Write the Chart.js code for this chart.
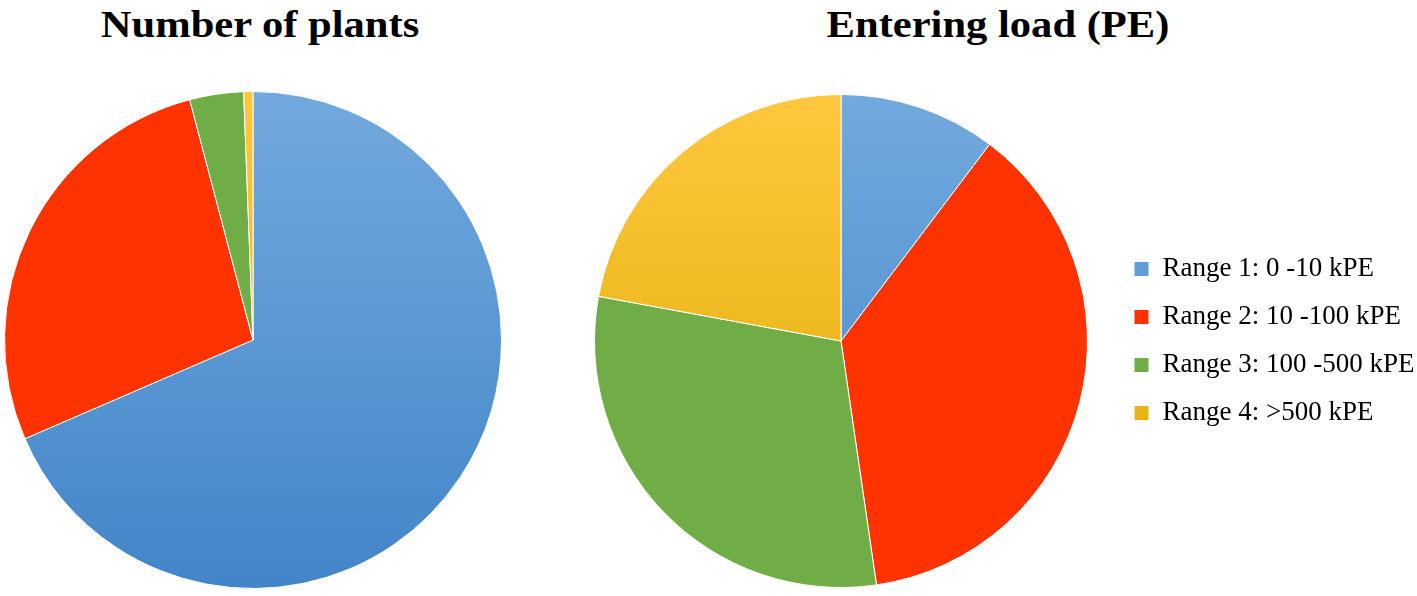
<!DOCTYPE html>
<html>
<head>
  <title>Plants and entering load</title>
  <script src="https://cdn.jsdelivr.net/npm/chart.js"></script>
  <style>
    body { margin: 0; background: #fff; width: 1417px; height: 596px; position: relative; overflow: hidden; }
    .title {
      position: absolute;
      font-family: "Liberation Serif", "Times New Roman", serif;
      font-weight: bold;
      font-size: 38px;
      line-height: 1;
      white-space: nowrap;
      transform: translateX(-50%) scaleX(1.12);
      color: #000;
    }
    .box { position: absolute; }
  </style>
</head>
<body>
  <div class="title" style="left:260px; top:5px;">Number of plants</div>
  <div class="title" style="left:998px; top:5px;">Entering load (PE)</div>

  <div class="box" style="left:4px; top:91px; width:498px; height:498px;">
    <canvas id="plantsChart"></canvas>
  </div>
  <div class="box" style="left:569px; top:94px; width:848px; height:494px;">
    <canvas id="loadChart"></canvas>
  </div>

  <script>
    const categories = ['Range 1: 0 -10 kPE', 'Range 2: 10 -100 kPE', 'Range 3: 100 -500 kPE', 'Range 4: >500 kPE'];
    const plantShares = [68.5, 27.4, 3.5, 0.6];   // % of plants
    const loadShares = [10.3, 37.4, 30.2, 22.1];  // % of entering load

    // top / bottom colour of each slice (office style vertical shading)
    const topColors = ['#72a9de', '#ff3300', '#70ad47', '#ffc83e'];
    const bottomColors = ['#4285c8', '#ff3300', '#70ad47', '#dba900'];

    function sliceColor(ctx) {
      const area = ctx.chart.chartArea;
      const i = ctx.dataIndex;
      if (!area) return topColors[i];
      const g = ctx.chart.ctx.createLinearGradient(0, area.top, 0, area.bottom);
      g.addColorStop(0, topColors[i]);
      g.addColorStop(1, bottomColors[i]);
      return g;
    }

    Chart.defaults.font.family = '"Liberation Serif", "Times New Roman", serif';
    Chart.defaults.color = '#000';

    function makePie(id, values, showLegend) {
      return new Chart(document.getElementById(id), {
        type: 'pie',
        data: {
          labels: categories,
          datasets: [{
            data: values,
            backgroundColor: sliceColor,
            borderColor: '#fff',
            borderWidth: 1
          }]
        },
        options: {
          responsive: true,
          maintainAspectRatio: false,
          animation: false,
          layout: { padding: 0 },
          plugins: {
            tooltip: { enabled: false },
            legend: {
              display: showLegend,
              position: 'right',
              maxWidth: 304,
              labels: {
                boxWidth: 15,
                boxHeight: 15,
                padding: 21,
                font: { size: 27 }
              }
            }
          }
        }
      });
    }

    makePie('plantsChart', plantShares, false);
    makePie('loadChart', loadShares, true);
  </script>
</body>
</html>
